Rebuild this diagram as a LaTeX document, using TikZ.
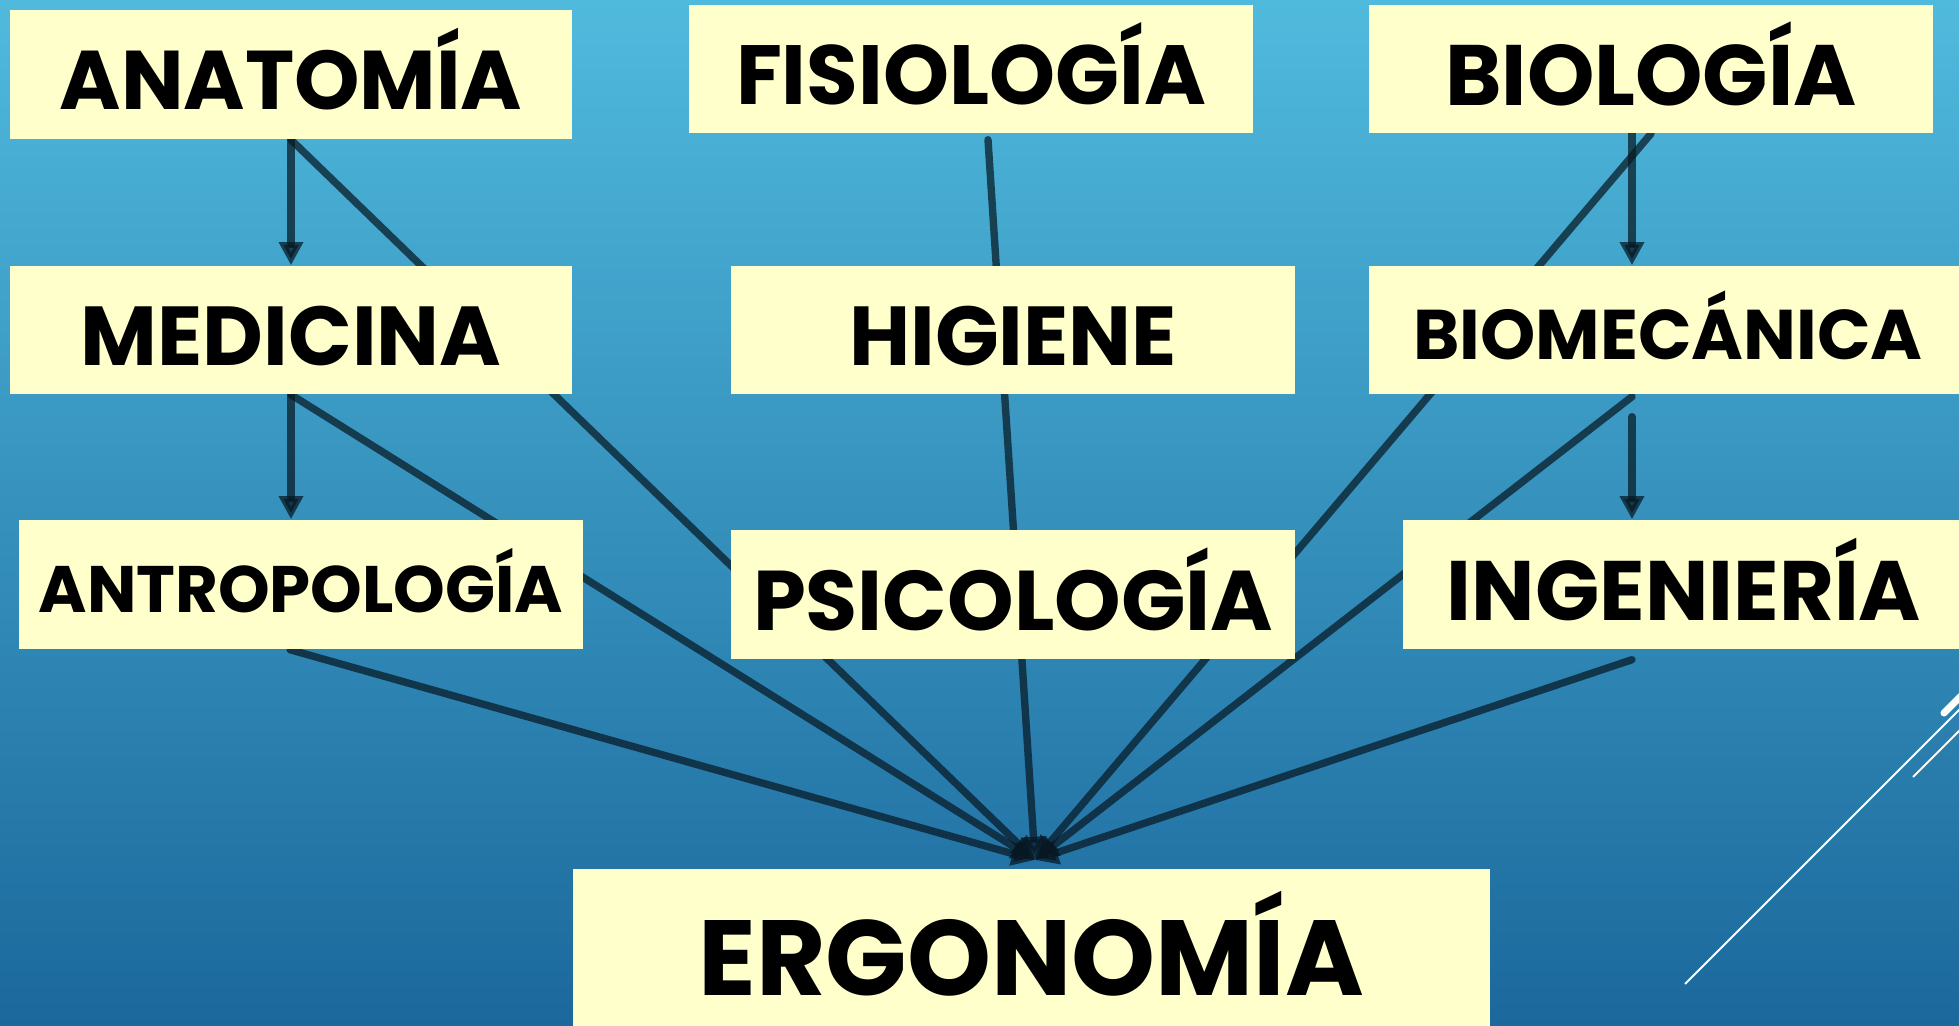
\documentclass[tikz,border=0pt]{standalone}
\usepackage{fontspec}
\setmainfont{Poppins}
\usetikzlibrary{arrows.meta}
\definecolor{bgtop}{RGB}{80,186,221}
\definecolor{bgbot}{RGB}{27,104,156}
\definecolor{boxfill}{RGB}{255,255,204}
\definecolor{linkcol}{RGB}{7,24,35}
\pgfdeclarelayer{back}
\pgfdeclarelayer{links}
\pgfsetlayers{back,links,main}
\begin{document}
\begin{tikzpicture}[
        box/.style={fill=boxfill,inner sep=0pt,font=\bfseries\fontsize{#1}{#1}\selectfont,text height={#1pt*0.85},text depth=0pt},
        link/.style={draw=linkcol,opacity=0.72,line width=2.1pt,line cap=round},
        tip/.style={-{Triangle[width=6.6pt,length=6.6pt]}}]
        \useasboundingbox (0,0) rectangle (19.59,-10.26);
        \clip (0,0) rectangle (19.59,-10.26);
        \begin{pgfonlayer}{back}
        \shade[top color=bgtop,bottom color=bgbot] (0,0) rectangle (19.59,-10.26);
        \draw[white,line width=0.6pt] (16.85,-9.84) -- (19.70,-6.99);
        \draw[white,line width=0.6pt] (19.13,-7.77) -- (19.70,-7.20);
        \draw[white,line width=2pt,line cap=round] (19.44,-7.13) -- (19.70,-6.87);
        \end{pgfonlayer}
        % first row
        \node[box=23.7,minimum width=5.62cm,minimum height=1.29cm] (anatomia) at (2.91,-0.745) {ANATOMÍA};
        \node[box=23.9,minimum width=5.64cm,minimum height=1.28cm] (fisiologia) at (9.71,-0.69) {FISIOLOGÍA};
        \node[box=24.4,minimum width=5.64cm,minimum height=1.28cm] (biologia) at (16.51,-0.69) {BIOLOGÍA};
        % second row
        \node[box=23.8,minimum width=5.62cm,minimum height=1.28cm] (medicina) at (2.91,-3.30) {MEDICINA};
        \node[box=23.8,minimum width=5.64cm,minimum height=1.28cm] (higiene) at (10.13,-3.30) {HIGIENE};
        \node[box=20,minimum width=5.98cm,minimum height=1.28cm] (biomecanica) at (16.68,-3.30) {BIOMECÁNICA};
        % third row
        \node[box=18.7,minimum width=5.64cm,minimum height=1.29cm] (antropologia) at (3.01,-5.845) {ANTROPOLOGÍA};
        \node[box=24.1,minimum width=5.64cm,minimum height=1.29cm] (psicologia) at (10.13,-5.945) {PSICOLOGÍA};
        \node[box=24,minimum width=5.62cm,minimum height=1.29cm] (ingenieria) at (16.84,-5.845) {INGENIERÍA};
        % bottom
        \node[box=30.4,text height=27.4pt,minimum width=9.17cm,minimum height=1.57cm] (ergonomia) at (10.31,-9.475) {ERGONOMÍA};
        \begin{pgfonlayer}{links}
        \coordinate (meet) at (10.35,-8.60);
        \draw[link,tip] (anatomia.south) -- (medicina.north);
        \draw[link,tip] (medicina.south) -- (medicina.south |- antropologia.north);
        \draw[link,tip] ([xshift=-1.9mm]biologia.south) -- ([xshift=-1.9mm]biologia.south |- biomecanica.north);
        \draw[link,tip] ([xshift=-3.6mm,yshift=-2.2mm]biomecanica.south) -- ([xshift=-3.6mm]biomecanica.south |- ingenieria.north);
        \draw[link,tip] (anatomia.south) -- (meet);
        \draw[link,tip] (medicina.south) -- (meet);
        \draw[link,tip] ([xshift=-1.1mm]antropologia.south) -- (meet);
        \draw[link,tip] ([xshift=1.7mm,yshift=-0.6mm]fisiologia.south) -- (meet);
        \draw[link,tip] (biologia.south) -- (meet);
        \draw[link,tip] ([xshift=-3.6mm,yshift=-0.2mm]biomecanica.south) -- (meet);
        \draw[link,tip] ([xshift=-5.2mm,yshift=-1mm]ingenieria.south) -- (meet);
        \end{pgfonlayer}
\end{tikzpicture}
\end{document}
